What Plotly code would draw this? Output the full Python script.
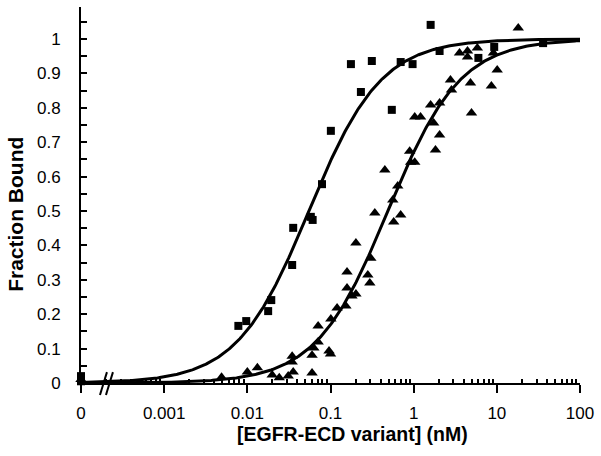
import numpy as np
import plotly.graph_objects as go

# ---- data (concentration in nM; 0 is drawn at the "0" position left of the axis break)
sq_x = [0, 0, 0.0078, 0.0097, 0.0178, 0.0194, 0.0346, 0.0356, 0.058, 0.061, 0.079, 0.101,
        0.176, 0.232, 0.314, 0.546, 0.698, 0.97, 1.60, 2.05, 6.0, 9.3, 36]
sq_y = [0.02, 0.005, 0.166, 0.180, 0.209, 0.241, 0.343, 0.451, 0.483, 0.474, 0.578, 0.733,
        0.927, 0.846, 0.936, 0.794, 0.933, 0.927, 1.041, 0.965, 0.945, 0.977, 0.988]

tri_x = [0, 0, 0, 0.0049, 0.010, 0.0132, 0.0199, 0.0242, 0.031, 0.0356, 0.0346, 0.0346,
         0.060, 0.060, 0.063, 0.096, 0.100, 0.071, 0.071, 0.101, 0.120, 0.153, 0.181, 0.202,
         0.158, 0.158, 0.281, 0.297, 0.305, 0.202, 0.450, 0.341, 0.575, 0.698, 0.561, 0.643,
         0.92, 1.03, 0.895, 1.83, 2.05, 1.74, 1.03, 1.21, 1.60, 2.05, 4.96, 2.77, 2.85, 4.82,
         3.56, 4.44, 4.44, 5.83, 18.1, 10.1, 8.6, 9.1]
tri_y = [0.01, -0.01, -0.03, 0.017, 0.032, 0.044, 0.023, 0.015, 0.020, 0.032, 0.078, 0.061,
         0.029, 0.081, 0.102, 0.093, 0.084, 0.166, 0.119, 0.186, 0.218, 0.224, 0.253, 0.259,
         0.276, 0.323, 0.314, 0.291, 0.363, 0.407, 0.619, 0.494, 0.468, 0.488, 0.532, 0.573,
         0.642, 0.642, 0.674, 0.677, 0.721, 0.756, 0.773, 0.773, 0.808, 0.814, 0.785, 0.881,
         0.852, 0.872, 0.959, 0.965, 0.948, 0.974, 1.032, 0.910, 0.863, 0.959]

# fitted dissociation constants (nM) for the two binding curves
kd_sq = 0.055
kd_tri = 0.49

x_tickvals = [1e-4, 1e-3, 1e-2, 1e-1, 1, 10, 100]
x_ticktext = ["0", "0.001", "0.01", "0.1", "1", "10", "100"]
y_tickvals = [0, 0.1, 0.2, 0.3, 0.4, 0.5, 0.6, 0.7, 0.8, 0.9, 1.0]
y_ticktext = ["0", "0.1", "0.2", "0.3", "0.4", "0.5", "0.6", "0.7", "0.8", "0.9", "1"]

ZERO_POS = 1e-4


def place(xs):
    return [ZERO_POS if v == 0 else v for v in xs]


xc = np.logspace(-4, 2, 400)

fig = go.Figure()
fig.add_trace(go.Scatter(x=xc, y=xc / (xc + kd_sq), mode="lines",
                         line=dict(color="black", width=3), hoverinfo="skip"))
fig.add_trace(go.Scatter(x=xc, y=xc / (xc + kd_tri), mode="lines",
                         line=dict(color="black", width=3), hoverinfo="skip"))
fig.add_trace(go.Scatter(x=place(sq_x), y=sq_y, mode="markers",
                         marker=dict(symbol="square", size=8, color="black"),
                         cliponaxis=False))
fig.add_trace(go.Scatter(x=place(tri_x), y=tri_y, mode="markers",
                         marker=dict(symbol="triangle-up", size=10, color="black"),
                         cliponaxis=False))

minor_x = [m * 10.0 ** e for e in range(-4, 2) for m in range(2, 10)]
minor_y = [0.05 + 0.1 * i for i in range(11)]

font_ax = dict(family="Liberation Sans, Arial, sans-serif", size=17, color="black")

fig.update_xaxes(type="log", range=[-4, 2], showgrid=False, zeroline=False,
                 showline=True, linecolor="black", linewidth=2,
                 tickmode="array", tickvals=x_tickvals, ticktext=x_ticktext,
                 ticks="outside", ticklen=8, tickwidth=2, tickcolor="black",
                 tickfont=font_ax, ticklabelstandoff=6,
                 minor=dict(tickmode="array", tickvals=minor_x, ticks="inside",
                            ticklen=4, tickwidth=1.5, tickcolor="black"))
fig.update_yaxes(range=[0, 1.093], showgrid=False, zeroline=False,
                 showline=True, linecolor="black", linewidth=2,
                 tickmode="array", tickvals=y_tickvals, ticktext=y_ticktext,
                 ticks="inside", ticklen=6, tickwidth=1.5, tickcolor="black",
                 tickfont=font_ax, ticklabelstandoff=15,
                 minor=dict(tickmode="array", tickvals=minor_y, ticks="inside",
                            ticklen=6, tickwidth=1.5, tickcolor="black"))

fig.add_annotation(text="<b>[EGFR-ECD variant] (nM)</b>", xref="paper", yref="paper",
                   x=0.544, y=-0.135, xanchor="center", yanchor="middle",
                   showarrow=False,
                   font=dict(family="Liberation Sans, Arial, sans-serif", size=19.5,
                             color="black"))
fig.add_annotation(text="<b>Fraction Bound</b>", xref="paper", yref="paper",
                   x=-0.1317, y=0.448, xanchor="center", yanchor="middle",
                   textangle=-90, showarrow=False,
                   font=dict(family="Liberation Sans, Arial, sans-serif", size=21,
                             color="black"))

# axis-break marks "//"
for x0 in (0.038, 0.050):
    fig.add_shape(type="line", xref="paper", yref="paper",
                  x0=x0, y0=-0.032, x1=x0 + 0.014, y1=0.029,
                  line=dict(color="black", width=2))

fig.update_layout(width=601, height=456, showlegend=False,
                  margin=dict(l=81, r=19, t=7, b=73),
                  plot_bgcolor="white", paper_bgcolor="white")

fig.write_html("out.html",
               config={"displayModeBar": False},
               post_script="document.body.style.margin='0';"
                           "document.body.style.overflow='hidden';")
